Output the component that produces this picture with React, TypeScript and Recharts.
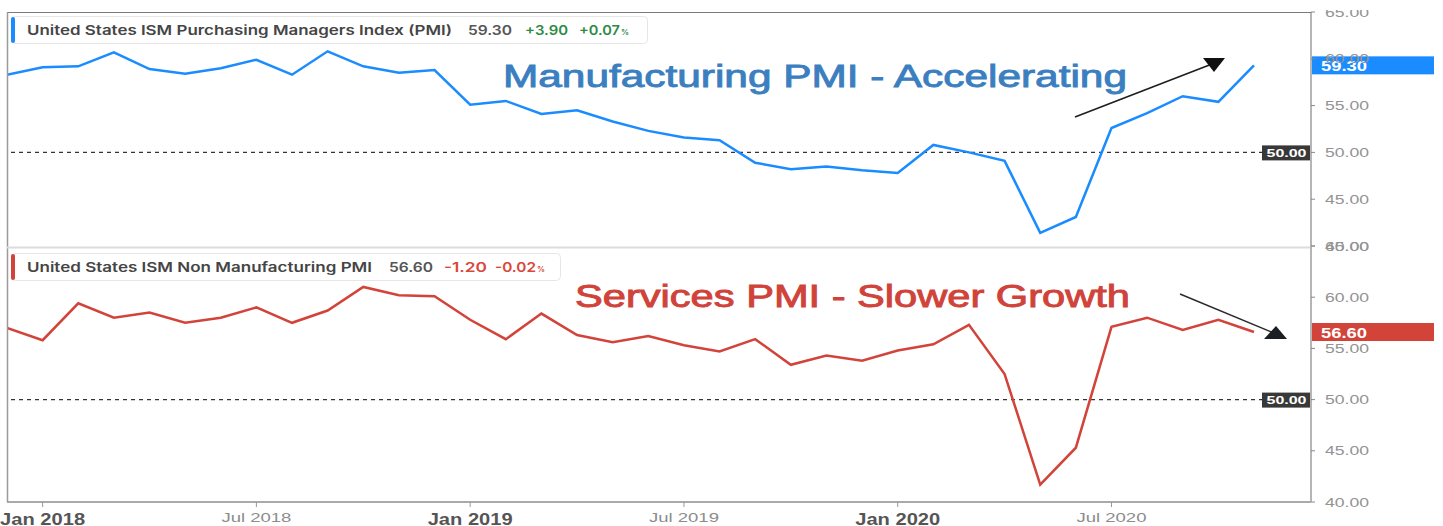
import { Line, LineChart, ReferenceLine, XAxis, YAxis } from 'recharts'

// release months (each reading is plotted on the month it was published)
const months = [
  'Dec 2017', 'Jan 2018', 'Feb 2018', 'Mar 2018', 'Apr 2018', 'May 2018', 'Jun 2018',
  'Jul 2018', 'Aug 2018', 'Sep 2018', 'Oct 2018', 'Nov 2018', 'Dec 2018',
  'Jan 2019', 'Feb 2019', 'Mar 2019', 'Apr 2019', 'May 2019', 'Jun 2019',
  'Jul 2019', 'Aug 2019', 'Sep 2019', 'Oct 2019', 'Nov 2019', 'Dec 2019',
  'Jan 2020', 'Feb 2020', 'Mar 2020', 'Apr 2020', 'May 2020', 'Jun 2020',
  'Jul 2020', 'Aug 2020', 'Sep 2020', 'Oct 2020', 'Nov 2020',
]

const manufacturing = [
  58.3, 59.1, 59.2, 60.7, 58.9, 58.4, 59.0, 59.9, 58.3, 60.8, 59.2, 58.5,
  58.8, 55.1, 55.5, 54.1, 54.5, 53.3, 52.3, 51.6, 51.3, 48.9, 48.2, 48.5,
  48.1, 47.8, 50.8, 50.0, 49.1, 41.4, 43.1, 52.6, 54.2, 56.0, 55.4, 59.3,
]

const services = [
  57.0, 55.8, 59.4, 58.0, 58.5, 57.5, 58.0, 59.0, 57.5, 58.7, 61.0, 60.2,
  60.1, 57.8, 55.9, 58.4, 56.3, 55.6, 56.2, 55.3, 54.7, 55.9, 53.4, 54.3,
  53.8, 54.8, 55.4, 57.3, 52.5, 41.7, 45.3, 57.1, 58.0, 56.8, 57.8, 56.6,
]

const priceTicks = [40, 45, 50, 55, 60, 65]
const dateTicks = [1, 7, 13, 19, 25, 31]

const mfgRows = months.map((month, i) => ({ i, month, value: manufacturing[i] }))
const svcRows = months.map((month, i) => ({ i, month, value: services[i] }))

const BLUE = '#1a8cff'
const RED = '#d2433a'
const SANS = '"Liberation Sans", Arial, sans-serif'
const UI = 'Inter, "Noto Sans", sans-serif'

function PriceTick({ x, y, payload }: any) {
  return (
    <text x={x} y={y} dy={4.5} fontSize={12.5} fill="#939393" fontFamily={SANS}
      textLength={44} lengthAdjust="spacingAndGlyphs">
      {Number(payload.value).toFixed(2)}
    </text>
  )
}

function DateTick({ x, y, payload }: any) {
  const label = months[payload.value]
  const major = label.startsWith('Jan')
  return (
    <text x={x} y={major ? y + 16 : y + 13} textAnchor="middle" fontFamily={SANS}
      fontSize={major ? 16 : 13.5} fontWeight={major ? 700 : 400}
      fill={major ? '#555' : '#8c8c8c'} textLength={major ? 85 : 70}
      lengthAdjust="spacingAndGlyphs">
      {label}
    </text>
  )
}

const levelTag = (text: string) => (props: any) => {
  const { x, y, width } = props.viewBox
  const right = x + width
  return (
    <g>
      <rect x={right - 49} y={y - 7} width={49} height={15} fill="#383838" />
      <text x={right - 24.5} y={y + 4.5} textAnchor="middle" fill="#fff" fontFamily={SANS}
        fontSize={11} fontWeight={700} textLength={40} lengthAdjust="spacingAndGlyphs">
        {text}
      </text>
    </g>
  )
}

const lastTag = (text: string, color: string) => (props: any) => {
  const { x, y, width } = props.viewBox
  const right = x + width
  return (
    <g>
      <rect x={right + 1} y={y - 9} width={122} height={18} fill={color} />
      <text x={right + 10} y={y + 5.5} fill="#fff" fontFamily={SANS} fontSize={14}
        fontWeight={700} textLength={46} lengthAdjust="spacingAndGlyphs">
        {text}
      </text>
    </g>
  )
}

function Panel({ rows, color, last, height, top, marginTop, marginBottom, showDates }: any) {
  return (
    <div style={{ position: 'absolute', left: 0, top }}>
      <LineChart width={1443} height={height} data={rows}
        margin={{ top: marginTop, right: 0, bottom: marginBottom, left: 7 }}>
        <XAxis dataKey="i" type="number" domain={[0, 36.6]} allowDataOverflow
          ticks={dateTicks} hide={!showDates} height={24} interval={0}
          axisLine={{ stroke: '#aaa', strokeWidth: 2 }} tickLine={{ stroke: '#999' }}
          tickSize={5} tick={<DateTick />} />
        <YAxis orientation="right" width={132} domain={[40, 65]} ticks={priceTicks}
          interval={0} axisLine={{ stroke: '#b5b5b5', strokeWidth: 2 }}
          tickLine={{ stroke: '#888' }} tickSize={4} tickMargin={10} tick={<PriceTick />} />
        <ReferenceLine y={50} stroke="#333" strokeDasharray="4 4" strokeWidth={1.2}
          label={levelTag('50.00')} />
        <Line type="linear" dataKey="value" stroke={color} strokeWidth={2.5} dot={false}
          isAnimationActive={false} />
        <ReferenceLine y={last} stroke="none" label={lastTag(last.toFixed(2), color)} />
      </LineChart>
    </div>
  )
}

function Legend({ y, color, title, titleW, value, change, pct, changeColor, boxW, xs }: any) {
  return (
    <g fontFamily={UI} fontWeight={600} fontSize={13}>
      <rect x={11.5} y={y + 0.5} width={boxW} height={27} rx={4} fill="#fff" stroke="#e6e6e6" />
      <rect x={11} y={y + 1} width={4} height={26} rx={2} fill={color} />
      <text x={27} y={y + 18.5} fill="#454545" textLength={titleW} lengthAdjust="spacingAndGlyphs">
        {title}
      </text>
      <text x={xs[0]} y={y + 18.5} fill="#555" textLength={44} lengthAdjust="spacingAndGlyphs">
        {value}
      </text>
      <text x={xs[1]} y={y + 18.5} fill={changeColor} textLength={43} lengthAdjust="spacingAndGlyphs">
        {change}
      </text>
      <text x={xs[2]} y={y + 18.5} fill={changeColor} textLength={41} lengthAdjust="spacingAndGlyphs">
        {pct}
      </text>
      <text x={xs[2] + 42} y={y + 18.5} fill={changeColor} fontSize={8}>%</text>
    </g>
  )
}

export default function App() {
  return (
    <div style={{ position: 'absolute', left: 0, top: 0, width: 1443, height: 526,
      background: '#fff', overflow: 'hidden' }}>
      <Panel rows={mfgRows} color={BLUE} last={59.3} height={246} top={10}
        marginTop={2} marginBottom={10} showDates={false} />
      <Panel rows={svcRows} color={RED} last={56.6} height={290} top={236}
        marginTop={10} marginBottom={0} showDates />
      <svg width={1443} height={526}
        style={{ position: 'absolute', left: 0, top: 0, pointerEvents: 'none' }}>
        <line x1={7} y1={12.5} x2={1311} y2={12.5} stroke="#7a7a7a" />
        <line x1={7.5} y1={12} x2={7.5} y2={502} stroke="#9a9a9a" strokeWidth={1.5} />
        <line x1={7} y1={247.5} x2={1310} y2={247.5} stroke="#dcdcdc" strokeWidth={2} />
        <Legend y={16} color={BLUE} title="United States ISM Purchasing Managers Index (PMI)"
          titleW={425} value="59.30" change="+3.90" pct="+0.07" changeColor="#2f8a47"
          boxW={636} xs={[468, 525, 579]} />
        <Legend y={253} color={RED} title="United States ISM Non Manufacturing PMI"
          titleW={345} value="56.60" change="-1.20" pct="-0.02" changeColor="#d8483b"
          boxW={549} xs={[389, 444, 495]} />
        <text x={503} y={87} fontFamily={SANS} fontSize={31} fill="#3b7fc0" stroke="#3b7fc0"
          strokeWidth={0.9} textLength={624} lengthAdjust="spacingAndGlyphs">
          Manufacturing PMI - Accelerating
        </text>
        <text x={575} y={307} fontFamily={SANS} fontSize={30.5} fill="#d0433a" stroke="#d0433a"
          strokeWidth={0.9} textLength={555} lengthAdjust="spacingAndGlyphs">
          Services PMI - Slower Growth
        </text>
        <line x1={1075} y1={117} x2={1212} y2={64} stroke="#1e1e1e" strokeWidth={1.6} />
        <polygon points="1203,58 1225,58 1214,72" fill="#111" />
        <line x1={1180} y1={294} x2={1274} y2={333} stroke="#2a2a2a" strokeWidth={1.4} />
        <polygon points="1264,339 1287,339 1276,326" fill="#1b1f24" />
      </svg>
    </div>
  )
}
